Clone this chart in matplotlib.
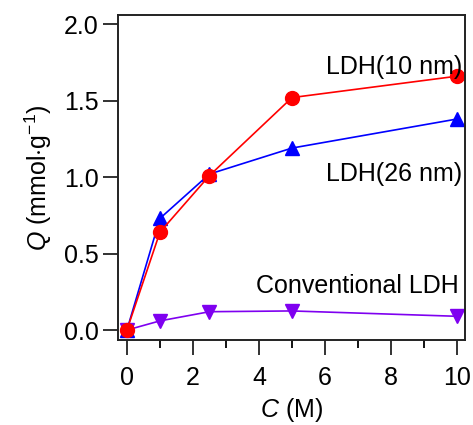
import matplotlib
matplotlib.use("Agg")
import matplotlib.pyplot as plt
from matplotlib.ticker import MultipleLocator

plt.rcParams['font.family'] = ['Liberation Sans', 'DejaVu Sans']
plt.rcParams['mathtext.fontset'] = 'custom'
plt.rcParams['mathtext.rm'] = 'Liberation Sans'
plt.rcParams['mathtext.it'] = 'Liberation Sans:italic'

conc = [0, 1, 2.5, 5, 10]
ldh10 = [0.0, 0.64, 1.01, 1.52, 1.66]
ldh26 = [0.0, 0.73, 1.02, 1.19, 1.38]
conventional = [0.0, 0.06, 0.12, 0.125, 0.09]

fig = plt.figure(figsize=(4.73, 4.25), dpi=100)
ax = fig.add_axes([118 / 473, 1 - 340 / 425, (465 - 118) / 473, (340 - 15) / 425])

ax.plot(conc, conventional, color='#7f00f0', marker='v', ms=10, lw=1.2, clip_on=False)
ax.plot(conc, ldh26, color='#0000ff', marker='^', ms=10, lw=1.2, clip_on=False)
ax.plot(conc, ldh10, color='#ff0000', marker='o', ms=10, lw=1.2, clip_on=False)

ax.text(10.15, 1.72, 'LDH(10 nm)', ha='right', va='center', fontsize=18)
ax.text(10.15, 1.02, 'LDH(26 nm)', ha='right', va='center', fontsize=18)
ax.text(10.05, 0.29, 'Conventional LDH', ha='right', va='center', fontsize=18)

ax.set_xlim(-0.27, 10.24)
ax.set_ylim(-0.065, 2.06)
ax.xaxis.set_major_locator(MultipleLocator(2))
ax.xaxis.set_minor_locator(MultipleLocator(1))
ax.yaxis.set_major_locator(MultipleLocator(0.5))
ax.tick_params(axis='both', labelsize=18, width=1.3, color='#222222')
ax.tick_params(axis='x', which='major', length=11, pad=8)
ax.tick_params(axis='x', which='minor', length=6, width=1.3)
ax.tick_params(axis='y', which='major', length=11, pad=3)
for s in ax.spines.values():
    s.set_linewidth(1.4)
    s.set_color('#222222')

ax.set_xlabel(r'$C$ (M)', fontsize=18, labelpad=4)
ax.set_ylabel(r'$Q$ (mmol$\cdot$g$^{-1}$)', fontsize=18, labelpad=7)

fig.savefig('out.png', dpi=100)
